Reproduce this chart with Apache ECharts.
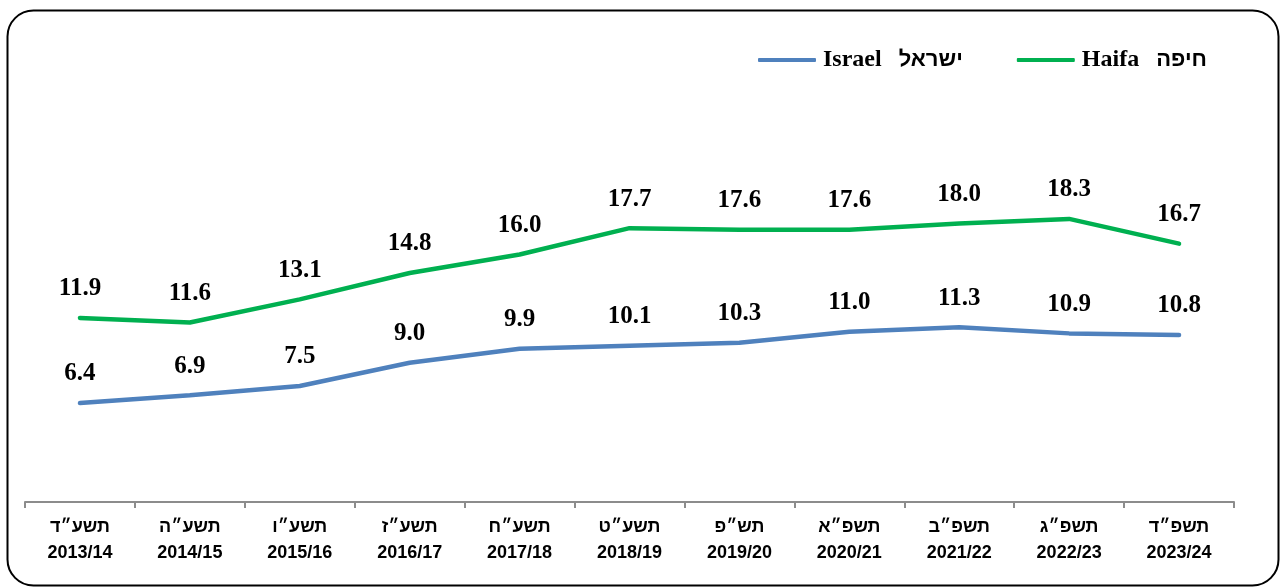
<!DOCTYPE html>
<html><head><meta charset="utf-8">
<script src="https://cdn.jsdelivr.net/npm/echarts@6/dist/echarts.min.js"></script>
<style>html,body{margin:0;padding:0;background:#fff}#c{width:1281px;height:588px}</style>
</head><body><div id="c"></div>
<script>
const hebrewYears = ['תשע״ד','תשע״ה','תשע״ו','תשע״ז','תשע״ח','תשע״ט','תש״פ','תשפ״א','תשפ״ב','תשפ״ג','תשפ״ד'];
const schoolYears = ['2013/14','2014/15','2015/16','2016/17','2017/18','2018/19','2019/20','2020/21','2021/22','2022/23','2023/24'];
const seriesEn = ['Israel', 'Haifa'];
const seriesHe = ['ישראל', 'חיפה'];
const israel = [6.4, 6.9, 7.5, 9.0, 9.9, 10.1, 10.3, 11.0, 11.3, 10.9, 10.8];
const haifa = [11.9, 11.6, 13.1, 14.8, 16.0, 17.7, 17.6, 17.6, 18.0, 18.3, 16.7];
const categories = hebrewYears.map((h, i) => h + '\n' + schoolYears[i]);

const chart = echarts.init(document.getElementById('c'));
const labelStyle = {
  show: true, position: 'top', distance: 16,
  fontFamily: 'Liberation Serif', fontWeight: 'bold', fontSize: 25, color: '#000',
  formatter: p => p.value.toFixed(1)
};
chart.setOption({
  backgroundColor: '#fff',
  animation: false,
  graphic: [{
    type: 'rect', left: 5, top: 8, silent: true,
    shape: { width: 1271, height: 575, r: 26 },
    style: { fill: 'none', stroke: '#000', lineWidth: 2 }
  }],
  legend: {
    top: 43, left: 753,
    itemWidth: 58, itemHeight: 4, itemGap: 54,
    icon: 'roundRect',
    formatter: name => {
      const i = seriesEn.indexOf(name);
      return '{e|' + name + '}{h|' + seriesHe[i] + '}';
    },
    textStyle: {
      padding: [0, 0, 0, 0],
      rich: {
        e: { fontFamily: 'Liberation Serif', fontWeight: 'bold', fontSize: 24, color: '#000', padding: [0, 17, 0, 2] },
        h: { fontFamily: 'Liberation Sans', fontWeight: 'bold', fontSize: 22, color: '#000' }
      }
    },
    data: seriesEn
  },
  grid: { left: 25, right: 47, top: 192.6, bottom: 86, containLabel: false },
  xAxis: {
    type: 'category', data: categories, boundaryGap: true,
    axisLine: { lineStyle: { color: '#8c8c8c', width: 2 } },
    axisTick: { show: true, length: 6, lineStyle: { color: '#8c8c8c', width: 2 } },
    axisLabel: {
      interval: 0, margin: 12,
      fontFamily: 'Liberation Sans', fontWeight: 'bold', fontSize: 18, color: '#000',
      lineHeight: 26
    }
  },
  yAxis: { type: 'value', min: 0, max: 20, show: false, splitLine: { show: false } },
  series: [
    { name: seriesEn[0], type: 'line', data: israel, symbol: 'circle', symbolSize: 1, showSymbol: true,
      lineStyle: { color: '#4F81BD', width: 4.5, cap: 'round' }, itemStyle: { color: '#4F81BD' },
      label: labelStyle },
    { name: seriesEn[1], type: 'line', data: haifa, symbol: 'circle', symbolSize: 1, showSymbol: true,
      lineStyle: { color: '#00B050', width: 4.5, cap: 'round' }, itemStyle: { color: '#00B050' },
      label: labelStyle }
  ]
});
</script></body></html>
